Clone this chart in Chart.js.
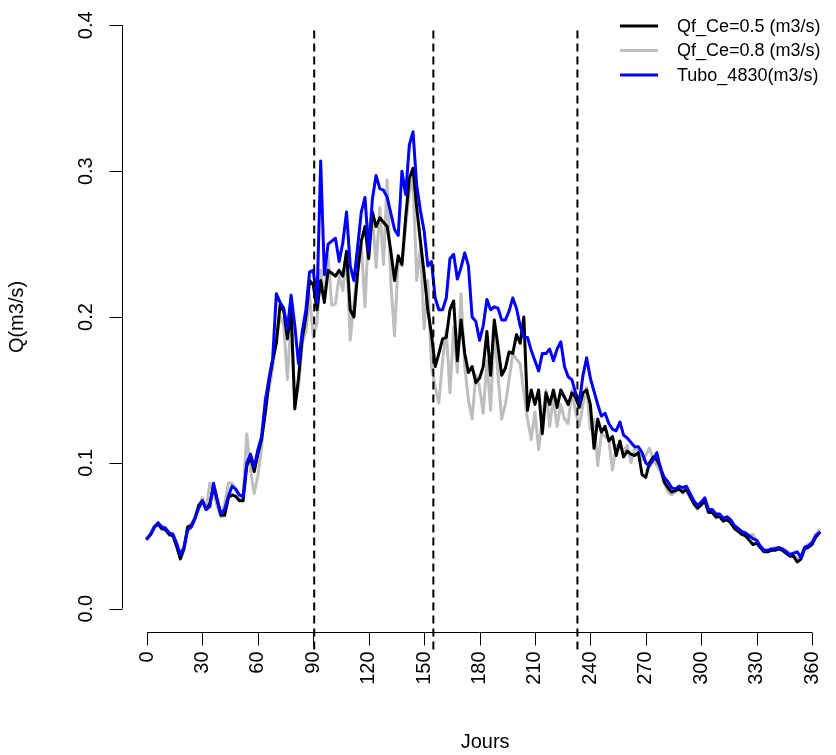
<!DOCTYPE html>
<html>
<head>
<meta charset="utf-8">
<script src="https://cdn.jsdelivr.net/npm/chart.js@4/dist/chart.umd.min.js"></script>
<style>
  html, body { margin: 0; padding: 0; background: #fff; }
  canvas { display: block; }
</style>
</head>
<body>
<canvas id="debit" width="836" height="755"></canvas>
<script>
// jours de l'annee (pas de 2 jours)
const jours = [
  0,2,4,6,8,10,12,14,16,18, 20,22,24,26,28,30,32,34,36,38,
  40,42,44,46,48,50,52,54,56,58, 60,62,64,66,68,70,72,74,76,78,
  80,82,84,86,88,90,92,94,96,98, 100,102,104,106,108,110,112,114,116,118,
  120,122,124,126,128,130,132,134,136,138, 140,142,144,146,148,150,152,154,156,158,
  160,162,164,166,168,170,172,174,176,178, 180,182,184,186,188,190,192,194,196,198,
  200,202,204,206,208,210,212,214,216,218, 220,222,224,226,228,230,232,234,236,238,
  240,242,244,246,248,250,252,254,256,258, 260,262,264,266,268,270,272,274,276,278,
  280,282,284,286,288,290,292,294,296,298, 300,302,304,306,308,310,312,314,316,318,
  320,322,324,326,328,330,332,334,336,338, 340,342,344,346,348,350,352,354,356,358,
  360,362,364
];

const qfCe05 = [
  0.048,0.051,0.056,0.058,0.055,0.054,0.051,0.050,0.043,0.034,
  0.041,0.056,0.057,0.062,0.071,0.074,0.068,0.072,0.084,0.074,
  0.064,0.064,0.076,0.078,0.077,0.074,0.074,0.098,0.104,0.094,
  0.106,0.116,0.134,0.155,0.170,0.182,0.208,0.204,0.185,0.205,
  0.137,0.158,0.185,0.200,0.225,0.222,0.205,0.225,0.210,0.232,
  0.230,0.228,0.232,0.228,0.245,0.205,0.200,0.230,0.252,0.262,
  0.240,0.272,0.262,0.268,0.265,0.262,0.245,0.225,0.242,0.236,
  0.268,0.295,0.302,0.275,0.252,0.230,0.205,0.188,0.166,0.175,
  0.185,0.186,0.205,0.211,0.170,0.198,0.175,0.162,0.166,0.155,
  0.158,0.166,0.190,0.160,0.198,0.180,0.160,0.165,0.176,0.175,
  0.188,0.182,0.200,0.136,0.150,0.140,0.150,0.120,0.148,0.140,
  0.150,0.138,0.150,0.145,0.140,0.148,0.145,0.138,0.148,0.150,
  0.140,0.110,0.130,0.121,0.125,0.115,0.118,0.105,0.115,0.104,
  0.108,0.106,0.105,0.107,0.092,0.090,0.100,0.104,0.102,0.097,
  0.087,0.083,0.080,0.081,0.082,0.080,0.082,0.077,0.072,0.069,
  0.071,0.074,0.066,0.066,0.063,0.063,0.060,0.061,0.059,0.055,
  0.053,0.051,0.050,0.047,0.044,0.045,0.042,0.039,0.039,0.040,
  0.040,0.041,0.040,0.038,0.036,0.036,0.032,0.034,0.041,0.042,
  0.044,0.049,0.052
];

const qfCe08 = [
  0.048,0.052,0.057,0.058,0.054,0.056,0.050,0.052,0.042,0.036,
  0.043,0.056,0.058,0.063,0.070,0.076,0.068,0.086,0.080,0.070,
  0.063,0.072,0.086,0.086,0.082,0.075,0.078,0.120,0.095,0.079,
  0.091,0.110,0.145,0.150,0.165,0.185,0.200,0.195,0.157,0.200,
  0.140,0.152,0.182,0.190,0.215,0.186,0.196,0.232,0.212,0.242,
  0.208,0.209,0.228,0.218,0.245,0.184,0.210,0.235,0.250,0.207,
  0.262,0.270,0.234,0.275,0.236,0.294,0.223,0.187,0.240,0.235,
  0.262,0.285,0.295,0.225,0.248,0.192,0.225,0.166,0.152,0.141,
  0.170,0.191,0.148,0.193,0.162,0.216,0.166,0.143,0.130,0.160,
  0.152,0.134,0.170,0.136,0.193,0.160,0.130,0.140,0.157,0.175,
  0.171,0.168,0.148,0.130,0.116,0.135,0.109,0.130,0.150,0.125,
  0.145,0.125,0.140,0.130,0.127,0.150,0.135,0.125,0.140,0.152,
  0.123,0.130,0.098,0.120,0.118,0.116,0.095,0.112,0.110,0.108,
  0.112,0.100,0.110,0.108,0.102,0.105,0.110,0.103,0.098,0.094,
  0.086,0.080,0.078,0.080,0.083,0.079,0.081,0.076,0.073,0.068,
  0.072,0.073,0.066,0.067,0.062,0.064,0.061,0.062,0.058,0.056,
  0.054,0.052,0.051,0.050,0.051,0.046,0.043,0.040,0.040,0.041,
  0.042,0.041,0.041,0.040,0.038,0.037,0.034,0.036,0.042,0.044,
  0.046,0.051,0.054
];

const tubo4830 = [
  0.048,0.051,0.056,0.059,0.056,0.055,0.052,0.051,0.045,0.037,
  0.042,0.054,0.056,0.062,0.069,0.074,0.068,0.070,0.086,0.075,
  0.065,0.068,0.077,0.084,0.082,0.078,0.077,0.100,0.106,0.097,
  0.109,0.118,0.142,0.158,0.171,0.216,0.210,0.206,0.192,0.215,
  0.194,0.168,0.190,0.205,0.231,0.232,0.210,0.307,0.229,0.250,
  0.252,0.254,0.238,0.251,0.272,0.235,0.225,0.248,0.272,0.282,
  0.245,0.281,0.297,0.288,0.287,0.282,0.271,0.260,0.256,0.300,
  0.284,0.318,0.327,0.290,0.273,0.259,0.235,0.238,0.213,0.205,
  0.205,0.213,0.240,0.243,0.226,0.234,0.244,0.235,0.200,0.197,
  0.184,0.194,0.212,0.205,0.207,0.206,0.198,0.198,0.204,0.213,
  0.206,0.194,0.186,0.186,0.177,0.170,0.163,0.175,0.175,0.178,
  0.170,0.178,0.183,0.166,0.159,0.157,0.148,0.141,0.160,0.172,
  0.158,0.149,0.140,0.132,0.134,0.127,0.123,0.122,0.128,0.119,
  0.117,0.114,0.111,0.111,0.107,0.100,0.098,0.102,0.107,0.096,
  0.090,0.087,0.083,0.082,0.084,0.083,0.084,0.079,0.074,0.071,
  0.073,0.076,0.068,0.068,0.065,0.065,0.062,0.063,0.061,0.057,
  0.055,0.053,0.052,0.050,0.048,0.047,0.043,0.040,0.040,0.041,
  0.041,0.042,0.041,0.039,0.037,0.038,0.039,0.035,0.042,0.043,
  0.045,0.050,0.052
];

// jours des separations (lignes pointillees)
const coupures = [90.5, 155, 233];
const coupureBas = -0.028;
const coupureHaut = 0.398;

const xTicks = [0,30,60,90,120,150,180,210,240,270,300,330,360];
const yTicks = [0, 0.1, 0.2, 0.3, 0.4];
const yTickLabels = ['0.0', '0.1', '0.2', '0.3', '0.4'];
const legendLabels = ['Qf_Ce=0.5 (m3/s)', 'Qf_Ce=0.8 (m3/s)', 'Tubo_4830(m3/s)'];
const couleurs = ['#000000', '#bebebe', '#0000ff'];

const FONT = '"Liberation Sans", Arial, sans-serif';

const toPoints = ys => jours.map((j, i) => ({ x: j, y: ys[i] }));

const series = [qfCe05, qfCe08, tubo4830].map((ys, i) => ({
  label: legendLabels[i],
  data: toPoints(ys),
  borderColor: couleurs[i],
  borderWidth: 3,
  pointRadius: 0,
  tension: 0,
  borderJoinStyle: 'round',
  borderCapStyle: 'round',
  order: [1, 2, 0][i]   // gris dessous, noir, bleu dessus
}));

// trace du bas vers le haut, comme abline
const separations = coupures.map(j => ({
  label: 'sep',
  data: [{ x: j, y: coupureBas }, { x: j, y: coupureHaut }],
  borderColor: '#000',
  borderWidth: 2,
  borderDash: [8, 5],
  pointRadius: 0,
  clip: false,
  order: -1
}));

// axes facon R (base graphics) dessines a la main
const rAxes = {
  id: 'rAxes',
  afterDraw(chart) {
    const { ctx, chartArea, scales: { x, y } } = chart;
    ctx.save();
    ctx.strokeStyle = '#000';
    ctx.fillStyle = '#000';
    ctx.lineWidth = 1;

    // axe x
    const yAx = Math.round(chartArea.bottom) + 0.5;
    ctx.beginPath();
    ctx.moveTo(x.getPixelForValue(xTicks[0]), yAx);
    ctx.lineTo(x.getPixelForValue(xTicks[xTicks.length - 1]), yAx);
    xTicks.forEach(t => {
      const px = Math.round(x.getPixelForValue(t)) + 0.5;
      ctx.moveTo(px, yAx);
      ctx.lineTo(px, yAx + 13);
    });
    // axe y
    const xAx = Math.round(chartArea.left) + 0.5;
    ctx.moveTo(xAx, y.getPixelForValue(yTicks[0]));
    ctx.lineTo(xAx, y.getPixelForValue(yTicks[yTicks.length - 1]));
    yTicks.forEach(t => {
      const py = Math.round(y.getPixelForValue(t)) + 0.5;
      ctx.moveTo(xAx, py);
      ctx.lineTo(xAx - 13, py);
    });
    ctx.stroke();

    ctx.font = '20px ' + FONT;
    // etiquettes x (verticales)
    xTicks.forEach(t => {
      ctx.save();
      ctx.translate(x.getPixelForValue(t), yAx + 19);
      ctx.rotate(-Math.PI / 2);
      ctx.textAlign = 'right';
      ctx.textBaseline = 'middle';
      ctx.fillText(String(t), 0, 0);
      ctx.restore();
    });
    // etiquettes y
    yTicks.forEach((t, i) => {
      ctx.save();
      ctx.translate(xAx - 31, y.getPixelForValue(t));
      ctx.rotate(-Math.PI / 2);
      ctx.textAlign = 'center';
      ctx.textBaseline = 'alphabetic';
      ctx.fillText(yTickLabels[i], 0, 0);
      ctx.restore();
    });

    // titres
    ctx.textAlign = 'center';
    ctx.textBaseline = 'middle';
    ctx.fillText('Jours', (chartArea.left + x.getPixelForValue(379.6)) / 2, 742);
    ctx.save();
    ctx.translate(17, (chartArea.top + chartArea.bottom) / 2);
    ctx.rotate(-Math.PI / 2);
    ctx.fillText('Q(m3/s)', 0, 0);
    ctx.restore();

    // legende sans cadre
    ctx.font = '18px ' + FONT;
    ctx.textAlign = 'left';
    legendLabels.forEach((lab, i) => {
      const ly = 26 + i * 24.5;
      ctx.strokeStyle = couleurs[i];
      ctx.lineWidth = 3;
      ctx.beginPath();
      ctx.moveTo(620, ly);
      ctx.lineTo(658, ly);
      ctx.stroke();
      ctx.fillStyle = '#000';
      ctx.fillText(lab, 677, ly + 1);
    });
    ctx.restore();
  }
};

new Chart(document.getElementById('debit'), {
  type: 'line',
  data: { datasets: [...series, ...separations] },
  options: {
    responsive: false,
    animation: false,
    layout: { padding: { left: 122, right: 0, top: 2, bottom: 123 } },
    plugins: { legend: { display: false }, tooltip: { enabled: false } },
    scales: {
      x: { type: 'linear', min: -13.56, max: 373, display: false },
      y: { min: -0.016, max: 0.416, display: false }
    }
  },
  plugins: [rAxes]
});
</script>
</body>
</html>
